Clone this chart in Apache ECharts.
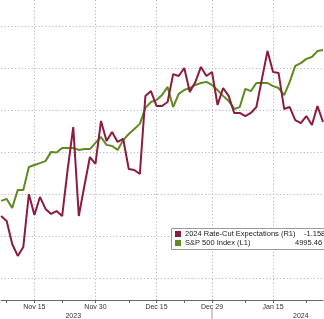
<!DOCTYPE html>
<html>
<head>
<meta charset="utf-8">
<script src="https://cdn.jsdelivr.net/npm/echarts@6/dist/echarts.min.js"></script>
<style>
html,body{margin:0;padding:0;background:#fff;}
#c{width:324px;height:319px;}
</style>
</head>
<body>
<div id="c"></div>
<script>
// Weekday dates (category axis)
var dates = [
'2023-11-07','2023-11-08','2023-11-09','2023-11-10','2023-11-13','2023-11-14','2023-11-15','2023-11-16','2023-11-17',
'2023-11-20','2023-11-21','2023-11-22','2023-11-23','2023-11-24','2023-11-27','2023-11-28','2023-11-29','2023-11-30',
'2023-12-01','2023-12-04','2023-12-05','2023-12-06','2023-12-07','2023-12-08','2023-12-11','2023-12-12','2023-12-13','2023-12-14','2023-12-15',
'2023-12-18','2023-12-19','2023-12-20','2023-12-21','2023-12-22','2023-12-25','2023-12-26','2023-12-27','2023-12-28','2023-12-29',
'2024-01-01','2024-01-02','2024-01-03','2024-01-04','2024-01-05','2024-01-08','2024-01-09','2024-01-10','2024-01-11','2024-01-12',
'2024-01-15','2024-01-16','2024-01-17','2024-01-18','2024-01-19','2024-01-22','2024-01-23','2024-01-24','2024-01-25','2024-01-26'
];
// 2024 Rate-Cut Expectations (R1)
var rateCut = [
-0.895,-0.871,-0.762,-0.705,-0.748,-1.000,-0.900,-0.986,-0.929,
-0.905,-0.919,-0.895,-1.119,-1.319,-0.895,-1.038,-1.176,-1.143,
-1.348,-1.252,-1.295,-1.248,-1.262,-1.119,-1.114,-1.095,-1.467,-1.490,-1.419,
-1.419,-1.438,-1.571,-1.562,-1.600,-1.486,-1.533,-1.605,-1.562,-1.581,
-1.424,-1.505,-1.467,-1.386,-1.386,-1.371,-1.386,-1.414,-1.548,-1.681,
-1.581,-1.576,-1.405,-1.414,-1.352,-1.338,-1.371,-1.329,-1.419,-1.343
];
// S&P 500 Index (L1)
var spx = [
4379,4386,4354,4418,4418,4500,4507,4514,4521,
4554,4552,4568,4568,4568,4561,4564,4564,4586,
4607,4579,4575,4561,4596,4618,4636,4654,4711,4732,4739,
4757,4786,4714,4761,4775,4782,4793,4800,4804,4793,
4775,4754,4736,4707,4714,4779,4771,4800,4800,4800,
4789,4782,4757,4804,4861,4871,4886,4893,4914,4918
];
var labelDates = ['2023-11-15','2023-11-30','2023-12-15','2023-12-29','2024-01-15'];
var tickLabels = ['Nov 15','Nov 30','Dec 15','Dec 29','Jan 15'];
var tickDates = ['2023-11-08','2023-11-15','2023-11-22','2023-11-30','2023-12-08','2023-12-15','2023-12-22','2023-12-29','2024-01-08','2024-01-15','2024-01-23'];
var legendNames = ['2024 Rate-Cut Expectations (R1)','S&P 500 Index (L1)'];
var legendValues = ['-1.158','4995.46'];
var yearLabels = ['2023','2024'];
var yearLabelDates = ['2023-11-24','2024-01-22'];
var yearSepDate = '2023-12-29';

var RED = '#8c1c3e', GREEN = '#5f8a22';
var chart = echarts.init(document.getElementById('c'), null, {renderer:'canvas'});
var gridDash = {color:'#b8b8b8', width:1, type:[1.2,2.2]};
chart.setOption({
  animation:false,
  backgroundColor:'#ffffff',
  textStyle:{fontFamily:'Liberation Sans'},
  grid:{left:1.1, right:1, top:0, bottom:19, containLabel:false},
  xAxis:{
    type:'category', data:dates, boundaryGap:false,
    axisLine:{show:true, lineStyle:{color:'#666', width:1}},
    axisTick:{show:true, length:3, lineStyle:{color:'#666'}, interval:function(i,v){return tickDates.indexOf(v)>=0;}},
    axisLabel:{show:true, fontSize:7, color:'#333', margin:4,
      interval:function(i,v){return labelDates.indexOf(v)>=0;},
      formatter:function(v){var k=labelDates.indexOf(v);return k>=0?tickLabels[k]:'';}},
    splitLine:{show:true, lineStyle:gridDash, interval:function(i,v){return labelDates.indexOf(v)>=0;}}
  },
  yAxis:[
    {type:'value', position:'left', min:4025, max:5096.43, show:true,
      axisLine:{show:false}, axisTick:{show:false}, axisLabel:{show:false}, splitLine:{show:false}},
    {type:'value', position:'right', inverse:true, min:-1.92381, max:-0.49524,
      splitNumber:7, minInterval:0.2, maxInterval:0.2,
      axisLine:{show:false}, axisTick:{show:false}, axisLabel:{show:false},
      splitLine:{show:true, showMinLine:false, showMaxLine:false, lineStyle:gridDash}}
  ],
  series:[
    {name:legendNames[1], type:'line', data:spx, yAxisIndex:0, symbol:'none',
      lineStyle:{color:GREEN, width:2}, z:2},
    {name:legendNames[0], type:'line', data:rateCut, yAxisIndex:1, symbol:'none',
      lineStyle:{color:RED, width:2}, z:3}
  ]
});

var sepX = chart.convertToPixel({xAxisIndex:0}, yearSepDate);
var y1 = chart.convertToPixel({xAxisIndex:0}, yearLabelDates[0]);
var y2 = chart.convertToPixel({xAxisIndex:0}, yearLabelDates[1]);
chart.setOption({
  graphic:[
    {type:'line', shape:{x1:sepX, y1:309, x2:sepX, y2:319}, style:{stroke:'#999', lineWidth:1}},
    {type:'text', x:y1, y:316, style:{text:yearLabels[0], fill:'#333', font:'7px "Liberation Sans"', textAlign:'center', textVerticalAlign:'middle'}},
    {type:'text', x:y2, y:316, style:{text:yearLabels[1], fill:'#333', font:'7px "Liberation Sans"', textAlign:'center', textVerticalAlign:'middle'}},
    {type:'rect', shape:{x:171.5, y:228.5, width:170, height:21}, style:{fill:'#fff', stroke:'#9a9a9a', lineWidth:1}, z:10},
    {type:'rect', shape:{x:175, y:231, width:6, height:6}, style:{fill:RED}, z:11},
    {type:'rect', shape:{x:175, y:240, width:6, height:6}, style:{fill:GREEN}, z:11},
    {type:'text', x:185, y:234, style:{text:legendNames[0], fill:'#222', font:'7.5px "Liberation Sans"', textVerticalAlign:'middle'}, z:11},
    {type:'text', x:185, y:243, style:{text:legendNames[1], fill:'#222', font:'7.5px "Liberation Sans"', textVerticalAlign:'middle'}, z:11},
    {type:'text', x:304, y:234, style:{text:legendValues[0], fill:'#222', font:'7.5px "Liberation Sans"', textVerticalAlign:'middle'}, z:11},
    {type:'text', x:295, y:243, style:{text:legendValues[1], fill:'#222', font:'7.5px "Liberation Sans"', textVerticalAlign:'middle'}, z:11}
  ]
});
</script>
</body>
</html>
